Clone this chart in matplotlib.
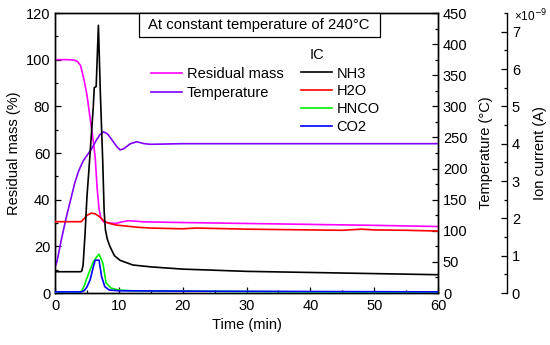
import numpy as np
import matplotlib.pyplot as plt
from matplotlib.lines import Line2D
from matplotlib.patches import Rectangle

plt.rcParams['font.family'] = ['Liberation Sans', 'DejaVu Sans']
plt.rcParams['font.size'] = 10

# residual mass (%)
t_mass = [0, 2, 3, 3.5, 4, 4.5, 5, 5.5, 6.0, 6.3, 6.6, 6.9, 7.2, 7.6, 8.5, 9.5, 10.5, 11.5, 12.5, 14, 20, 30, 40, 50, 60]
mass = [100, 100, 99.8, 99.3, 97.5, 92, 85, 75, 65, 58, 45, 36, 32, 30.5, 30, 29.8, 30.5, 31, 30.8, 30.5, 30.2, 29.8, 29.4, 29.0, 28.5]

# temperature (C)
t_temp = [0, 0.3, 1, 1.8, 2.5, 3.1, 3.7, 4.4, 5, 5.75, 6.5, 7.0, 7.6, 8.2, 9, 9.7, 10.2, 10.8, 11.8, 12.8, 14, 15, 20, 40, 60]
temp = [42, 50, 86, 123, 152, 177, 196, 212, 221, 232, 246, 254, 259, 256, 245, 235, 230, 232, 240, 243, 240, 239, 240, 240, 240]

# ion current (x1e-9 A)
t_nh3 = [0, 4.0, 4.2, 4.4, 4.7, 5.0, 5.5, 6.0, 6.15, 6.45, 6.8, 7.1, 7.47, 7.7, 7.9, 8.2, 8.6, 9.3, 10.2, 12.2, 15, 20, 30, 40, 50, 60]
nh3 = [0.57, 0.57, 0.59, 0.75, 1.56, 2.56, 3.75, 5.0, 5.5, 5.53, 7.17, 5.38, 3.56, 2.19, 1.69, 1.44, 1.25, 1.0, 0.875, 0.75, 0.7, 0.64, 0.58, 0.55, 0.52, 0.49]
t_h2o = [0, 4.1, 4.6, 5.0, 5.7, 6.3, 7.0, 7.8, 8.6, 9.6, 13, 15, 20, 22, 25, 30, 40, 45, 48, 50, 55, 60]
h2o = [1.91, 1.91, 2.0, 2.08, 2.14, 2.12, 2.04, 1.91, 1.86, 1.82, 1.76, 1.74, 1.72, 1.74, 1.73, 1.71, 1.69, 1.68, 1.71, 1.69, 1.68, 1.66]
t_hnco = [0, 3.66, 4.2, 4.6, 5.0, 5.5, 6.0, 6.5, 6.9, 7.2, 7.5, 8.0, 8.8, 10, 12, 20, 40, 60]
hnco = [0.0, 0.0, 0.06, 0.2, 0.4, 0.62, 0.84, 0.96, 1.04, 0.92, 0.8, 0.27, 0.13, 0.08, 0.06, 0.05, 0.03, 0.02]
t_co2 = [0, 4.17, 4.6, 5.0, 5.5, 6.0, 6.3, 6.9, 7.3, 7.8, 8.5, 10, 20, 40, 60]
co2 = [0.03, 0.03, 0.07, 0.16, 0.35, 0.7, 0.88, 0.88, 0.44, 0.17, 0.08, 0.06, 0.05, 0.04, 0.03]

fig = plt.figure(figsize=(5.5, 3.45), dpi=100)
ax = fig.add_axes([0.1, 0.1507, 0.6964, 0.8116])
ax2 = ax.twinx()
ax3 = ax.twinx()
ax3.spines['right'].set_position(('axes', 1.18))
for s in ['left', 'top', 'bottom']:
    ax3.spines[s].set_visible(False)

lw = 1.2
ax.plot(t_mass, mass, color='#ff00ff', lw=lw)
ax2.plot(t_temp, temp, color='#8000ff', lw=lw)
ax3.plot(t_h2o, h2o, color='#ff0000', lw=lw)
ax3.plot(t_hnco, hnco, color='#00ee00', lw=lw)
ax3.plot(t_co2, co2, color='#0000ff', lw=lw)
ax3.plot(t_nh3, nh3, color='black', lw=lw)

ax.set_xlim(0, 60)
ax.set_ylim(0, 120)
ax2.set_ylim(0, 450)
ax3.set_ylim(0, 7.5)
ax.set_xticks(np.arange(0, 61, 10))
ax.set_xticks(np.arange(0, 61, 5), minor=True)
ax.set_yticks(np.arange(0, 121, 20))
ax.set_yticks(np.arange(0, 121, 10), minor=True)
ax2.set_yticks(np.arange(0, 451, 50))
ax2.set_yticks(np.arange(0, 451, 25), minor=True)
ax3.set_yticks(np.arange(0, 8, 1))
ax3.set_yticks(np.arange(0, 7.6, 0.5), minor=True)
for a in (ax, ax2, ax3):
    a.tick_params(which='major', direction='in', length=4.5, width=0.9, labelsize=10.5)
    a.tick_params(which='minor', direction='in', length=2.5, width=0.9)
    for s in a.spines.values():
        s.set_linewidth(1.0)
ax.tick_params(axis='x', pad=4)

ax.set_xlabel('Time (min)', fontsize=10.5, labelpad=4)
ax.set_ylabel('Residual mass (%)', fontsize=10.5, labelpad=3)
ax2.set_ylabel('Temperature (°C)', fontsize=10.5, labelpad=8)
ax3.set_ylabel('Ion current (A)', fontsize=10.5, labelpad=9)
fig.text(0.935, 0.955, '×10$^{-9}$', fontsize=8.5, ha='left', va='center')

# title box touching the top of the frame
ax3.add_patch(Rectangle((84 / 383, 1 - 24.3 / 280), 241 / 383, 24.3 / 280, transform=ax.transAxes,
                        fc='white', ec='black', lw=0.9, clip_on=False))
ax3.text(204 / 383, 1 - 12 / 280, 'At constant temperature of 240°C', transform=ax.transAxes,
         ha='center', va='center', fontsize=10.7)

h1 = [Line2D([], [], color='#ff00ff', lw=lw), Line2D([], [], color='#8000ff', lw=lw)]
leg1 = ax3.legend(h1, ['Residual mass', 'Temperature'], loc='upper left',
                  bbox_to_anchor=(151 / 550, 1 - 67.5 / 345), bbox_transform=fig.transFigure,
                  frameon=False, borderpad=0, handlelength=2.1, handletextpad=0.35,
                  labelspacing=0.31, fontsize=10.5, borderaxespad=0)
ax3.add_artist(leg1)
h2 = [Line2D([], [], color=c, lw=lw) for c in ['black', '#ff0000', '#00ee00', '#0000ff']]
ax3.legend(h2, ['NH3', 'H2O', 'HNCO', 'CO2'], loc='upper left',
           bbox_to_anchor=(301 / 550, 1 - 66.5 / 345), bbox_transform=fig.transFigure,
           frameon=False, borderpad=0, handlelength=2.1, handletextpad=0.35,
           labelspacing=0.27, fontsize=10.5, borderaxespad=0)
fig.text(316.5 / 550, 1 - 55 / 345, 'IC', fontsize=10.5, ha='center', va='center')

fig.savefig('out.png', dpi=100)
